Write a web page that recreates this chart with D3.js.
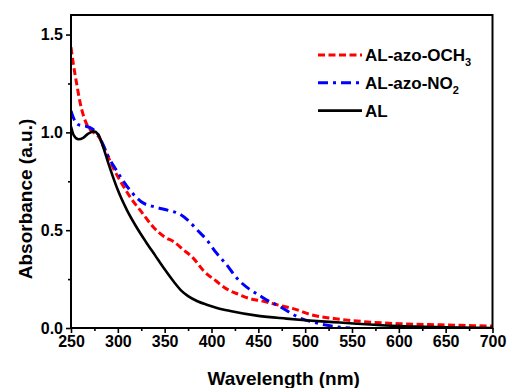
<!DOCTYPE html>
<html><head><meta charset="utf-8">
<script src="https://cdn.jsdelivr.net/npm/d3@7"></script>
<style>body{margin:0;background:#fff}svg{display:block;font-family:Arial,"Liberation Sans",sans-serif;font-weight:bold}</style>
</head><body><svg id="c" width="508" height="388"></svg>
<script>
const wlAL = [250,253,258,263,268,274,279,284,290,295,300,310,320,330,340,350,360,368,375,385,395,405,420,450,480,500,530,555,600,650,700];
const absAL = [1.03,0.985,0.965,0.972,0.992,1.005,0.99,0.93,0.84,0.77,0.705,0.60,0.515,0.44,0.37,0.30,0.235,0.19,0.163,0.137,0.119,0.104,0.087,0.062,0.048,0.04,0.03,0.022,0.01,0.004,0.0];
const wlOCH3 = [250,252.5,256,259.6,263,268,274,280,285,297,304,316,325,338,350,360,370,380,392,405,416,430,441,452,473,490,505,537,570,600,645,700];
const absOCH3 = [1.435,1.35,1.25,1.155,1.09,1.03,1.0,0.975,0.925,0.80,0.74,0.65,0.595,0.515,0.465,0.44,0.40,0.36,0.29,0.24,0.20,0.17,0.15,0.14,0.115,0.095,0.07,0.045,0.03,0.022,0.016,0.01];
const wlNO2 = [250,253,256,261,267,272,278,284,290,298,306,316,325,340,355,365,375,385,395,405,415,428,440,450,460,473,485,495,510,528,548];
const absNO2 = [1.11,1.07,1.044,1.035,1.03,1.02,0.995,0.94,0.874,0.81,0.75,0.687,0.645,0.618,0.60,0.585,0.55,0.50,0.45,0.385,0.33,0.25,0.20,0.17,0.14,0.11,0.075,0.05,0.028,0.01,0.0];
const xTicks = [250,300,350,400,450,500,550,600,650,700];
const yTicks = [0.0,0.5,1.0,1.5];
const legendLabels = [["AL-azo-OCH","3"],["AL-azo-NO","2"],["AL",""]];

const svg = d3.select("#c");
const L=71, R=492.5, T=15, B=328;
const x = d3.scaleLinear().domain([250,700]).range([L,R]);
const y = d3.scaleLinear().domain([0,1.6]).range([B,T]);

svg.append("defs").append("clipPath").attr("id","clip").append("rect")
  .attr("x",L).attr("y",T).attr("width",R-L).attr("height",B-T);

const line = d3.line().x(d=>x(d[0])).y(d=>y(d[1])).curve(d3.curveMonotoneX);
const g = svg.append("g").attr("clip-path","url(#clip)");
const series = [
  {w:wlOCH3,a:absOCH3,color:"#ff0000",dash:"7,3.5",width:3},
  {w:wlNO2,a:absNO2,color:"#0000ff",dash:"10,5,3,5",width:3},
  {w:wlAL,a:absAL,color:"#000000",dash:null,width:2.6}
];
series.forEach(s=>{
  g.append("path").datum(s.w.map((v,i)=>[v,s.a[i]]))
    .attr("d",line).attr("fill","none").attr("stroke",s.color)
    .attr("stroke-width",s.width).attr("stroke-dasharray",s.dash);
});

const xAxis = d3.axisBottom(x).tickValues(xTicks).tickFormat(d3.format("d")).tickSize(5).tickPadding(3);
const xMinor = d3.axisBottom(x).tickValues(d3.range(275,700,50)).tickFormat("").tickSize(3);
const yAxis = d3.axisLeft(y).tickValues(yTicks).tickFormat(d3.format(".1f")).tickSize(5).tickPadding(3);
const yMinor = d3.axisLeft(y).tickValues([0.25,0.75,1.25]).tickFormat("").tickSize(3);
[[xAxis,`translate(0,${B})`],[xMinor,`translate(0,${B})`],[yAxis,`translate(${L},0)`],[yMinor,`translate(${L},0)`]].forEach(([a,t])=>{
  const ga = svg.append("g").attr("transform",t).call(a);
  ga.select(".domain").remove();
  ga.selectAll("line").attr("stroke","#000").attr("stroke-width",1.6);
  ga.selectAll("text").attr("fill","#000").style("font-size","16px").style("font-weight","bold").style("font-family","Arial,'Liberation Sans',sans-serif");
});
svg.append("rect").attr("x",L).attr("y",T).attr("width",R-L).attr("height",B-T)
  .attr("fill","none").attr("stroke","#000").attr("stroke-width",2);

svg.append("text").attr("x",(L+R)/2+2).attr("y",385).attr("text-anchor","middle")
  .style("font-size","19px").text("Wavelength (nm)");
svg.append("text").attr("transform","translate(32,199) rotate(-90)").attr("text-anchor","middle")
  .style("font-size","19px").text("Absorbance (a.u.)");

const lg = svg.append("g");
legendLabels.forEach((lab,i)=>{
  const cy = 55 + i*27.8;
  const s = series[i];
  lg.append("line").attr("x1",318).attr("x2",362).attr("y1",cy).attr("y2",cy)
    .attr("stroke",s.color).attr("stroke-width",s.width).attr("stroke-dasharray",s.dash);
  const t = lg.append("text").attr("x",365).attr("y",cy+6).style("font-size","17px").text(lab[0]);
  if(lab[1]) t.append("tspan").attr("dy",5).style("font-size","11px").text(lab[1]);
});
</script></body></html>
